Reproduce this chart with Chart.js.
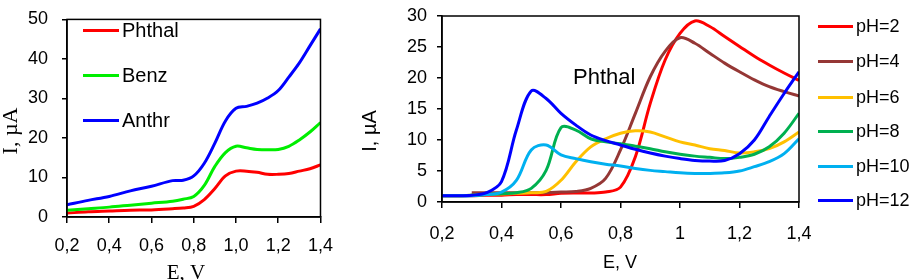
<!DOCTYPE html>
<html>
<head>
<meta charset="utf-8">
<script src="https://cdn.jsdelivr.net/npm/chart.js@4.4.1/dist/chart.umd.min.js"></script>
<style>
  html, body { margin: 0; padding: 0; background: #fff; }
  body { width: 913px; height: 280px; position: relative; overflow: hidden; font-family: "Liberation Sans", Arial, sans-serif; }
  .box { position: absolute; top: 0; height: 280px; }
  #leftBox { left: 0; width: 345px; }
  #rightBox { left: 340px; width: 573px; }
  .leg { position: absolute; white-space: nowrap; color: #000; }
  .leg i { position: absolute; left: 0; height: 3px; margin-top: -1.5px; }
  .leg span { position: absolute; top: 0; line-height: 1; }
  #note { position: absolute; left: 573px; top: 66px; font-size: 22px; line-height: 1; }
</style>
</head>
<body>
<div class="box" id="leftBox"><canvas id="leftChart" width="345" height="280"></canvas></div>
<div class="box" id="rightBox"><canvas id="rightChart" width="573" height="280"></canvas></div>
<div id="note">Phthal</div>
<div id="legends"></div>
<script>
// left panel: three compounds
const leftE = [0.2, 0.3, 0.4, 0.5, 0.6, 0.7, 0.75, 0.8, 0.85, 0.9, 0.95, 1.0, 1.05, 1.1, 1.15, 1.2, 1.25, 1.3, 1.35, 1.4];
const phthal = [1.0, 1.3, 1.5, 1.7, 1.8, 2.1, 2.3, 2.7, 4.4, 7.2, 10.4, 11.6, 11.6, 11.3, 10.8, 10.8, 11.0, 11.6, 12.2, 13.2];
const benz = [1.7, 2.1, 2.5, 3.0, 3.5, 4.0, 4.5, 5.2, 8.0, 12.8, 16.3, 17.9, 17.5, 17.1, 17.0, 17.1, 17.9, 19.5, 21.5, 23.9];
const anthr = [3.1, 4.2, 5.2, 6.6, 7.8, 9.2, 9.3, 10.4, 13.6, 18.7, 24.3, 27.5, 28.0, 28.8, 30.1, 32.0, 35.4, 39.0, 43.3, 47.6];
const leftLabels = ['Phthal', 'Benz', 'Anthr'];

// right panel: Phthal at different pH
const rightE = [0.2, 0.25, 0.3, 0.35, 0.4, 0.45, 0.5, 0.55, 0.6, 0.65, 0.7, 0.75, 0.8, 0.85, 0.9, 0.95, 1.0, 1.05, 1.1, 1.15, 1.2, 1.25, 1.3, 1.35, 1.4];
const ph2 = [1.0, 1.0, 1.0, 1.1, 1.1, 1.2, 1.2, 1.2, 1.4, 1.45, 1.45, 1.6, 2.4, 7.3, 15.9, 22.9, 27.2, 29.2, 28.3, 26.7, 25.1, 23.5, 22.1, 20.8, 19.6];
const ph4 = [null, null, 1.5, 1.5, 1.5, 1.5, 1.5, 1.5, 1.6, 1.7, 2.2, 3.8, 8.4, 14.3, 20.2, 24.3, 26.5, 25.6, 24.0, 22.4, 21.0, 19.7, 18.6, 17.8, 17.1];
const ph6 = [1.0, 1.0, 1.1, 1.2, 1.3, 1.4, 1.5, 1.7, 3.5, 6.5, 8.9, 10.2, 11.1, 11.5, 11.3, 10.5, 9.7, 9.2, 8.6, 8.3, 7.9, 8.1, 8.6, 9.7, 11.3];
const ph8 = [1.0, 1.0, 1.1, 1.2, 1.35, 1.5, 2.2, 5.1, 12.0, 11.6, 10.2, 9.7, 9.4, 9.0, 8.6, 8.1, 7.7, 7.4, 7.2, 7.0, 7.2, 7.7, 8.9, 11.1, 14.3];
const ph10 = [1.0, 1.0, 1.0, 1.2, 1.6, 3.5, 8.4, 9.2, 7.6, 7.0, 6.5, 6.1, 5.8, 5.4, 5.1, 4.9, 4.7, 4.6, 4.6, 4.7, 5.0, 5.7, 6.5, 7.8, 10.2];
const ph12 = [1.0, 1.0, 1.1, 1.5, 3.3, 11.6, 17.9, 16.7, 14.3, 12.4, 10.8, 9.9, 9.2, 8.5, 7.9, 7.4, 7.0, 6.7, 6.6, 6.7, 7.8, 10.0, 13.8, 17.5, 21.0];
const rightLabels = ['pH=2', 'pH=4', 'pH=6', 'pH=8', 'pH=10', 'pH=12'];

const leftColors = ['#ff0000', '#00ee00', '#0000ff'];
const rightColors = ['#ff0000', '#953735', '#ffc000', '#00b050', '#00b0f0', '#0000ff'];

const SANS = '"Liberation Sans", Arial, sans-serif';
const SERIF = '"Liberation Serif", "Times New Roman", serif';

function toPoints(xs, ys) {
  return xs.map((x, i) => ({ x, y: ys[i] }));
}

function comma(v, fixed) {
  const s = fixed ? v.toFixed(1) : String(Number(v.toFixed(1)));
  return s.replace('.', ',');
}

// frame round the plot area + axis titles drawn as text
function framePlugin(titles) {
  return {
    id: 'frameAndTitles',
    afterDraw(chart) {
      const { ctx, chartArea: a } = chart;
      ctx.save();
      ctx.strokeStyle = '#000';
      ctx.lineWidth = 1.5;
      ctx.strokeRect(a.left, a.top, a.right - a.left, a.bottom - a.top);
      ctx.fillStyle = '#000';
      ctx.textAlign = 'center';
      ctx.textBaseline = 'middle';
      titles.forEach((t) => {
        ctx.save();
        ctx.font = t.font;
        ctx.translate(t.x, t.y);
        if (t.rot) ctx.rotate(t.rot);
        ctx.fillText(t.text, 0, 0);
        ctx.restore();
      });
      ctx.restore();
    }
  };
}

function axisX(fixed, pad) {
  return {
    type: 'linear', min: 0.2, max: 1.4,
    ticks: {
      stepSize: 0.2, color: '#000', padding: pad, maxRotation: 0, autoSkip: false,
      font: { family: SANS, size: 18, lineHeight: 1.2 },
      callback: (v) => comma(v, fixed)
    },
    grid: { display: true, drawOnChartArea: false, drawTicks: true, tickLength: 6, color: '#000', lineWidth: 1.5 },
    border: { display: true, color: '#000', width: 1.5 }
  };
}

function axisY(max, step, pad) {
  return {
    min: 0, max,
    ticks: { stepSize: step, color: '#000', padding: pad, font: { family: SANS, size: 18, lineHeight: 0.6 } },
    grid: { display: true, drawOnChartArea: false, drawTicks: true, tickLength: 5, color: '#000', lineWidth: 1.5 },
    border: { display: true, color: '#000', width: 1.5 }
  };
}

function makeChart(id, datasets, opts) {
  const x = axisX(opts.fixed, opts.xPad);
  x.afterFit = (s) => { s.height = opts.xHeight; };
  const y = axisY(opts.yMax, opts.yStep, opts.yPad);
  y.afterFit = (s) => { s.width = opts.yWidth; };
  return new Chart(document.getElementById(id), {
    type: 'line',
    data: { datasets },
    options: {
      responsive: false,
      animation: false,
      devicePixelRatio: 1,
      layout: { padding: opts.padding },
      elements: { point: { radius: 0 }, line: { borderWidth: 3, tension: 0.35 } },
      plugins: { legend: { display: false }, tooltip: { enabled: false } },
      scales: { x, y }
    },
    plugins: [framePlugin(opts.titles)]
  });
}

const leftSeries = [phthal, benz, anthr];
makeChart('leftChart',
  leftSeries.map((ys, i) => ({
    label: leftLabels[i], data: toPoints(leftE, ys), borderColor: leftColors[i],
    order: leftSeries.length - i
  })),
  {
    fixed: true, xPad: 12, xHeight: 63, yMax: 50, yStep: 10, yPad: 14, yWidth: 67,
    padding: { top: 7, right: 20, left: 0, bottom: 0 },
    titles: [
      { text: 'E, V', x: 186, y: 273, font: '21px ' + SERIF },
      { text: 'I, \u00b5A', x: 11, y: 131, rot: -Math.PI / 2, font: '22px ' + SERIF }
    ]
  });

const rightSeries = [ph2, ph4, ph6, ph8, ph10, ph12];
makeChart('rightChart',
  rightSeries.map((ys, i) => ({
    label: rightLabels[i], data: toPoints(rightE, ys), borderColor: rightColors[i],
    order: rightSeries.length - i
  })),
  {
    fixed: false, xPad: 15, xHeight: 78, yMax: 30, yStep: 5, yPad: 10, yWidth: 102,
    padding: { top: 16, right: 114, left: 0, bottom: 0 },
    titles: [
      { text: 'E, V', x: 280, y: 263, font: '18px ' + SANS },
      { text: 'I, \u00b5A', x: 30, y: 131, rot: -Math.PI / 2, font: '20px ' + SANS }
    ]
  });

// legends as plain text blocks
function legend(labels, colors, left, rows, lineW, fontSize) {
  const host = document.getElementById('legends');
  labels.forEach((label, i) => {
    const el = document.createElement('div');
    el.className = 'leg';
    el.style.left = left + 'px';
    el.style.top = rows[i] + 'px';
    el.style.fontSize = fontSize + 'px';
    const line = document.createElement('i');
    line.style.width = lineW + 'px';
    line.style.background = colors[i];
    const txt = document.createElement('span');
    txt.textContent = label;
    txt.style.left = (lineW + 3) + 'px';
    txt.style.top = (-fontSize / 2) + 'px';
    el.appendChild(line);
    el.appendChild(txt);
    host.appendChild(el);
  });
}

legend(leftLabels, leftColors, 83, [30, 75, 120], 36, 20);
legend(rightLabels, rightColors, 818, [26, 61, 97, 131, 166, 200], 35, 18);
</script>
</body>
</html>
